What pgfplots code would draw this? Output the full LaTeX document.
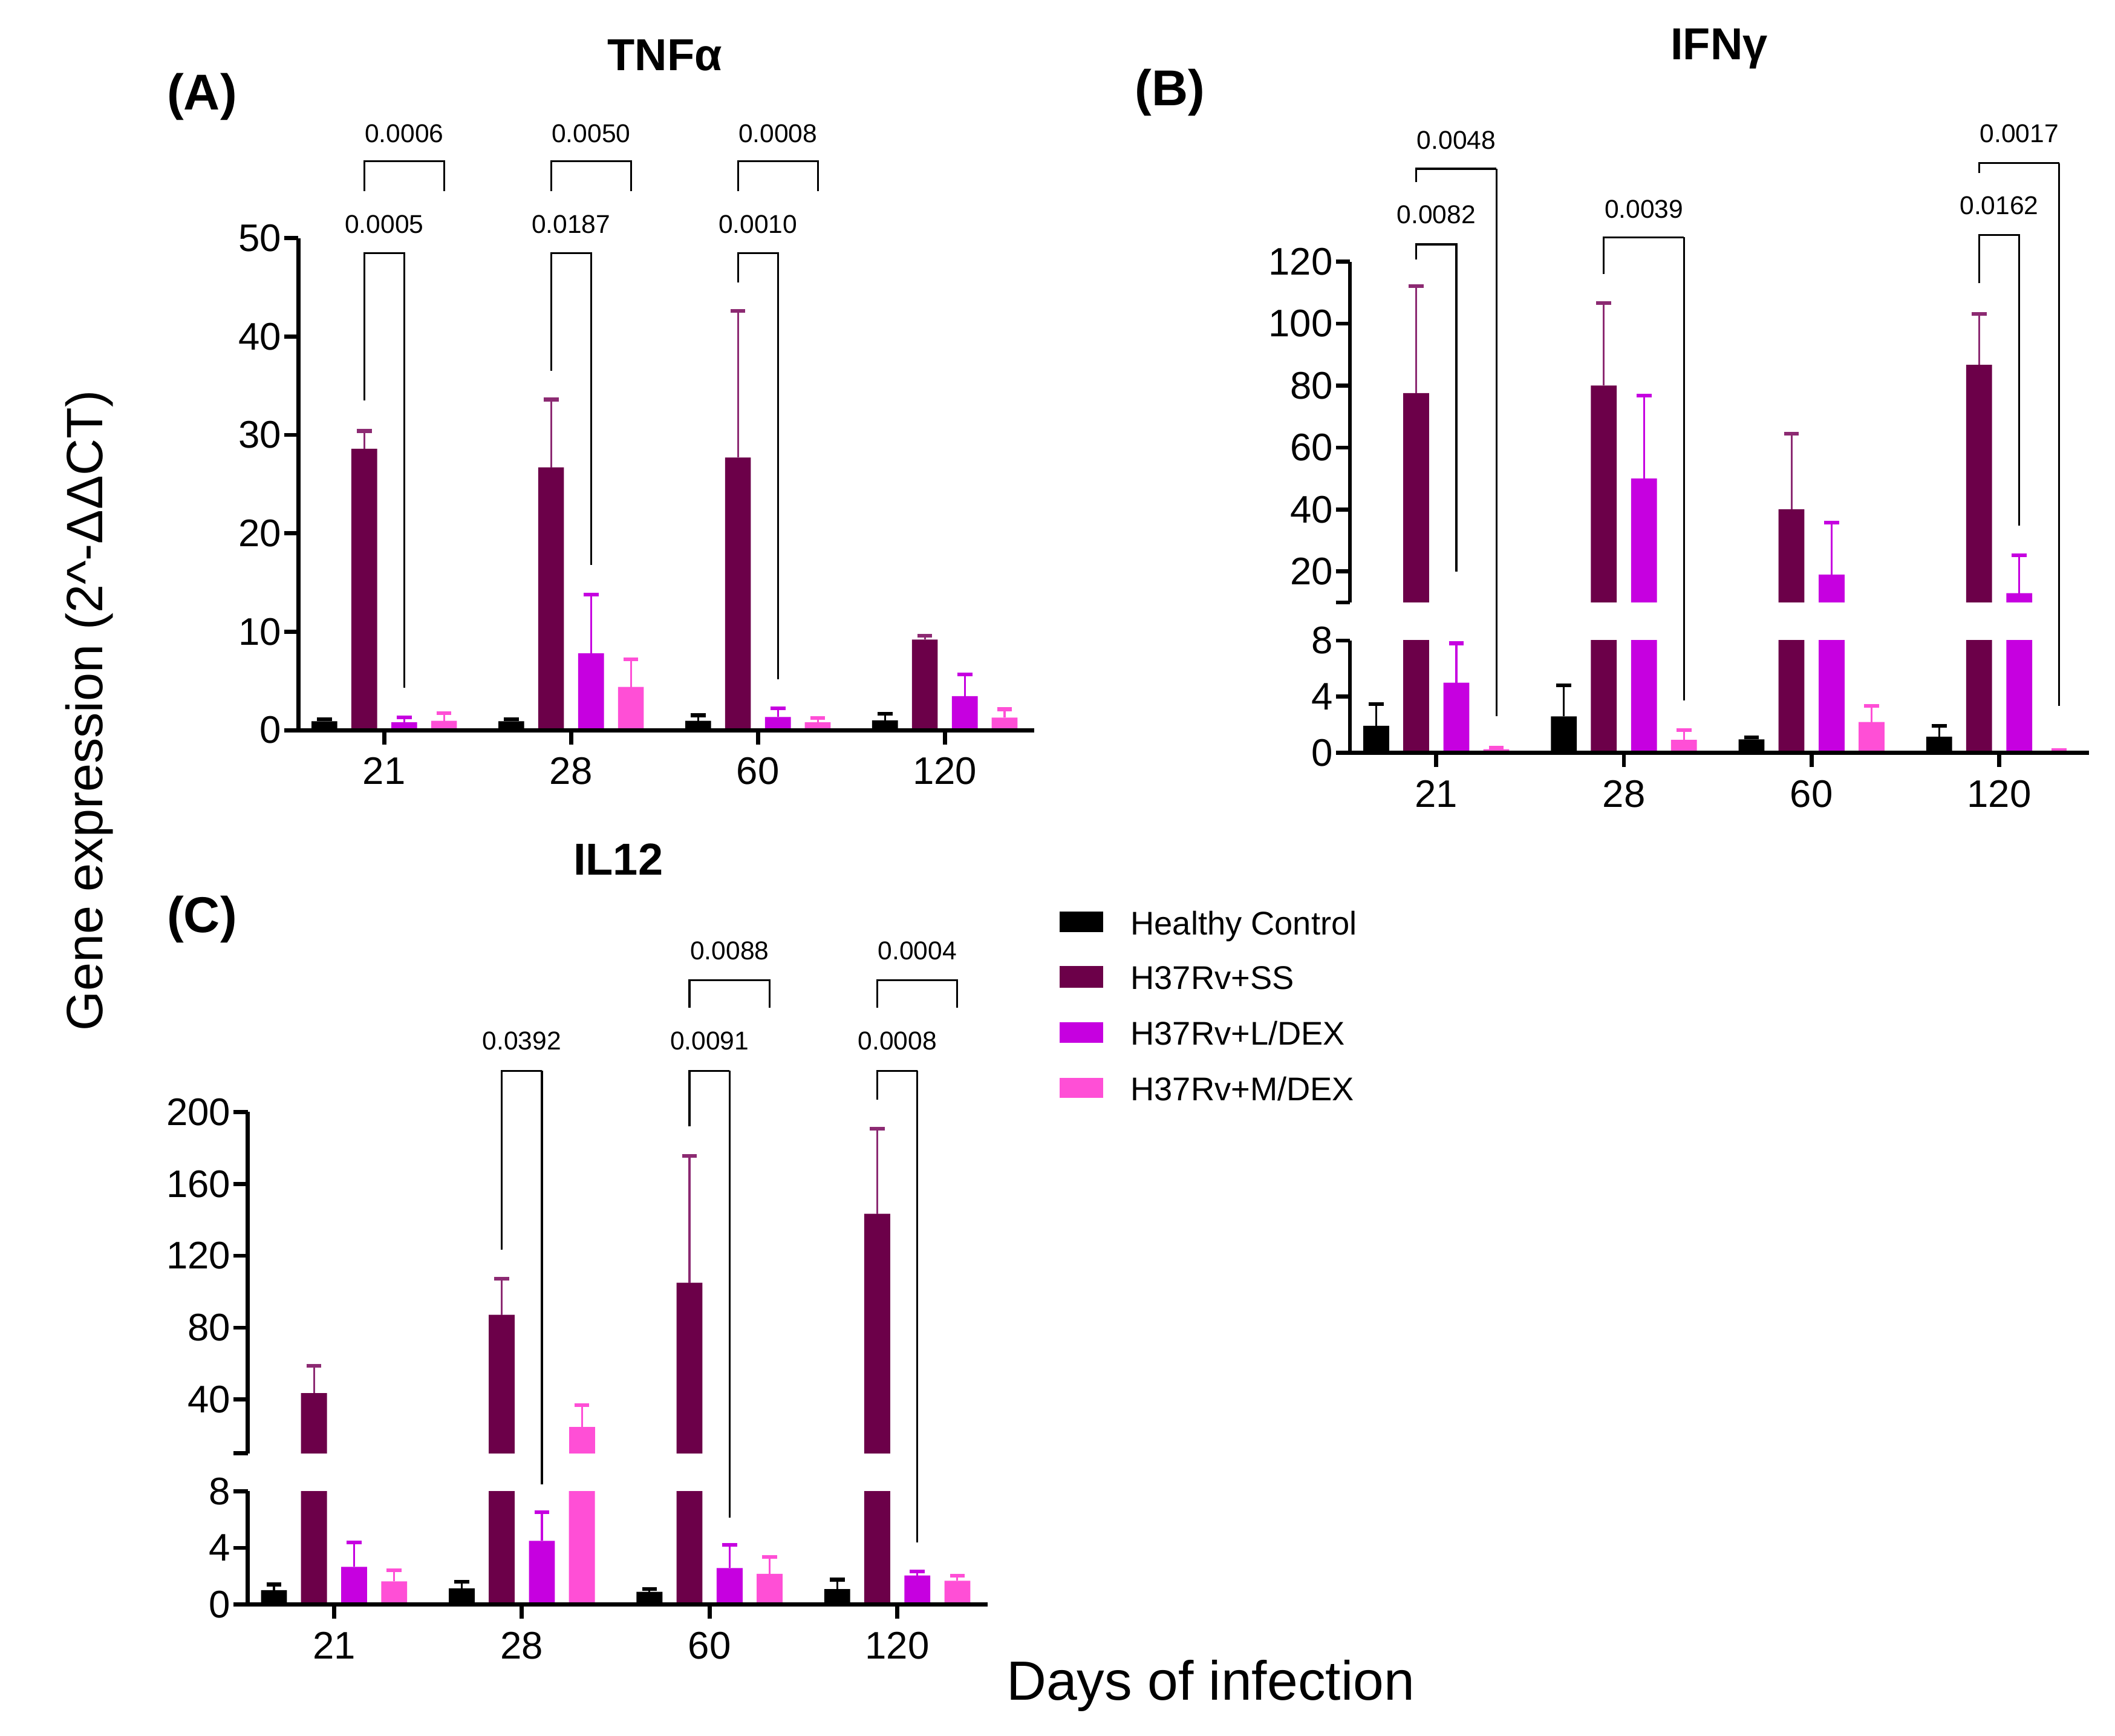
\documentclass[border=0pt]{standalone}
\usepackage{fontspec}
\setmainfont{Liberation Sans}
\usepackage{pgfplots}
\usepackage{pgfplotstable}
\pgfplotsset{compat=1.18}

\definecolor{hc}{HTML}{000000}
\definecolor{ss}{HTML}{6C0049}
\definecolor{sse}{HTML}{8C2A72}
\definecolor{ld}{HTML}{C600E0}
\definecolor{md}{HTML}{FF4FD6}

\newcommand{\px}{0.3634pt}
\newcommand{\pv}{\fontsize{6.9}{8}\selectfont}
\newcommand{\legfont}{\fontsize{8.8}{10}\selectfont}

% mean and SD (upper error) per day: 21, 28, 60, 120
\pgfplotstableread{
g   hc    hce    ss     sse    ld     lde    md     mde
0   0.90  0.20   28.6   1.8    0.80   0.50   0.96   0.75
1   0.90  0.20   26.7   6.9    7.8    6.0    4.4    2.8
2   0.96  0.55   27.7   14.9   1.33   0.90   0.80   0.42
3   1.00  0.65   9.2    0.40   3.46   2.2    1.28   0.85
}\tnfa

\pgfplotstableread{
g   hc    hce    ss     sse    ld     lde    md     mde
0   1.93  1.55   77.6   34.5   5.0    2.8    0.27   0.12
1   2.6   2.2    80.0   26.7   50.0   26.7   0.93   0.70
2   0.97  0.15   40.1   24.4   19.0   16.7   2.2    1.16
3   1.16  0.77   86.7   16.5   13.0   12.2   0.15   0.05
}\ifng

\pgfplotstableread{
g   hc    hce    ss     sse    ld     lde    md     mde
0   1.02  0.40   43.6   15.1   2.66   1.74   1.64   0.78
1   1.15  0.45   87.2   20.0   4.5    2.0    24.8   12.0
2   0.90  0.20   105.0  70.7   2.58   1.62   2.17   1.20
3   1.10  0.66   143.4  47.2   2.05   0.29   1.68   0.37
}\ilxii

\pgfplotsset{
  gp/.style={
    scale only axis, axis on top,
    clip mode=individual, clip marker paths=true,
    anchor=south west,
    xmin=-0.46, xmax=3.48,
    axis y line=left,
    axis line style={-, line width=1.1pt},
    tick style={line width=1.1pt, black},
    major tick length=3.8pt, tick align=outside,
    ybar, bar width=0.138, bar shift=0pt,
    ticklabel style={font=\fontsize{10.3}{12}\selectfont},
    yticklabel style={inner xsep=0.6pt},
    /pgf/number format/assume math mode=true,
  },
  low/.style={axis x line=bottom, xtick={0,1,2,3}, xticklabels={21,28,60,120}, gp},
  % upper part of a broken axis: bars that end below the break are left out
  up/.style={axis x line=none, xtick=\empty, gp,
    unbounded coords=discard, y filter/.expression={y<10 ? nan : y}},
  eb/.style={error bars/.cd, y dir=plus, y explicit,
    error bar style={line width=0.5pt, #1},
    error mark options={line width=1pt, #1, mark size=2pt, rotate=90}},
}

\newcommand{\bars}[1]{%
  \addplot[fill=hc, draw=none, eb=hc]
    table[x expr=\thisrow{g}-0.32, y=hc, y error=hce] {#1};
  \addplot[fill=ss, draw=none, eb=sse]
    table[x expr=\thisrow{g}-0.107, y=ss, y error=sse] {#1};
  \addplot[fill=ld, draw=none, eb=ld]
    table[x expr=\thisrow{g}+0.107, y=ld, y error=lde] {#1};
  \addplot[fill=md, draw=none, eb=md]
    table[x expr=\thisrow{g}+0.32, y=md, y error=mde] {#1};
}

% bracket: xL yL xR yR ytop xlabel ylabel text
\newcommand{\brk}[8]{%
  \draw[line width=0.5pt] (axis cs:#1,#2) -- (axis cs:#1,#5) -- (axis cs:#3,#5) -- (axis cs:#3,#4);
  \node[font=\pv, inner sep=0pt] at (axis cs:#6,#7) {#8};}
% bracket whose right leg goes down into the lower axis: xL yL xR ytop xlabel ylabel text name
\newcommand{\brx}[8]{%
  \draw[line width=0.5pt] (axis cs:#1,#2) -- (axis cs:#1,#4) -- (axis cs:#3,#4) coordinate (#8);
  \node[font=\pv, inner sep=0pt] at (axis cs:#5,#6) {#7};}

\begin{document}
\begin{tikzpicture}
\path[use as bounding box] (0,0) rectangle (1560*\px,1280*\px);

% (A) TNF-alpha
\begin{axis}[low, at={(220*\px,741.5*\px)}, width=197.33pt, height=131.88pt,
  ymin=0, ymax=50, ytick={0,10,...,50}]
\bars{\tnfa}
\brk{-0.107}{33.5}{0.107}{4.3}{48.5}{0}{51.4}{0.0005}
\brk{-0.107}{54.8}{0.32}{54.8}{57.8}{0.107}{60.6}{0.0006}
\brk{0.893}{36.5}{1.107}{16.8}{48.5}{1}{51.4}{0.0187}
\brk{0.893}{54.8}{1.32}{54.8}{57.8}{1.107}{60.6}{0.0050}
\brk{1.893}{45.5}{2.107}{5.2}{48.5}{2}{51.4}{0.0010}
\brk{1.893}{54.8}{2.32}{54.8}{57.8}{2.107}{60.6}{0.0008}
\end{axis}

% (B) IFN-gamma, broken axis
\begin{axis}[low, at={(995.7*\px,724.7*\px)}, width=198.16pt, height=30.13pt,
  ymin=0, ymax=8, ytick={0,4,8}]
\bars{\ifng}
\coordinate (B0b) at (axis cs:0.32,2.6);
\coordinate (B1b) at (axis cs:1.32,3.75);
\coordinate (B3b) at (axis cs:3.32,3.36);
\end{axis}
\begin{axis}[up, at={(995.7*\px,835.7*\px)}, width=198.16pt, height=91.32pt,
  ymin=10, ymax=120, ytick={10,20,40,60,80,100,120}, yticklabels={{},20,40,60,80,100,120}]
\bars{\ifng}
\brk{-0.107}{120.7}{0.107}{20.0}{125.6}{0}{135.2}{0.0082}
\brx{-0.107}{145.7}{0.32}{150}{0.107}{159.3}{0.0048}{B0t}
\brx{0.893}{116}{1.32}{127.9}{1.107}{136.9}{0.0039}{B1t}
\brk{2.893}{113}{3.107}{34.8}{128.7}{3}{138.2}{0.0162}
\brx{2.893}{148.6}{3.32}{151.8}{3.107}{161.4}{0.0017}{B3t}
\end{axis}

% (C) IL12, broken axis
\begin{axis}[low, at={(182.7*\px,96.6*\px)}, width=198.27pt, height=30.42pt,
  ymin=0, ymax=8, ytick={0,4,8}]
\bars{\ilxii}
\coordinate (C1b) at (axis cs:1.107,8.48);
\coordinate (C2b) at (axis cs:2.107,6.15);
\coordinate (C3b) at (axis cs:3.107,4.39);
\end{axis}
\begin{axis}[up, at={(182.7*\px,208.1*\px)}, width=198.27pt, height=91.5pt,
  ymin=10, ymax=200, ytick={10,40,80,120,160,200}, yticklabels={{},40,80,120,160,200}]
\bars{\ilxii}
\brx{0.893}{123.4}{1.107}{222.9}{1}{239.7}{0.0392}{C1t}
\brx{1.893}{191.9}{2.107}{222.9}{2}{239.7}{0.0091}{C2t}
\brk{1.893}{258.2}{2.32}{258.2}{273.4}{2.107}{289.8}{0.0088}
\brx{2.893}{206.8}{3.107}{222.9}{3}{239.7}{0.0008}{C3t}
\brk{2.893}{258.2}{3.32}{258.2}{273.4}{3.107}{289.8}{0.0004}
\end{axis}

\draw[line width=0.5pt] (B0t) -- (B0b);
\draw[line width=0.5pt] (B1t) -- (B1b);
\draw[line width=0.5pt] (B3t) -- (B3b);
\draw[line width=0.5pt] (C1t) -- (C1b);
\draw[line width=0.5pt] (C2t) -- (C2b);
\draw[line width=0.5pt] (C3t) -- (C3b);

% titles and panel letters
\node[anchor=base, inner sep=0pt, font=\bfseries\fontsize{12}{14}\selectfont] at (490.3*\px,1227.9*\px) {TNFα};
\node[anchor=base, inner sep=0pt, font=\bfseries\fontsize{13.5}{16}\selectfont] at (149*\px,1198.9*\px) {(A)};
\node[anchor=base, inner sep=0pt, font=\bfseries\fontsize{12}{14}\selectfont] at (1268*\px,1236*\px) {IFNγ};
\node[anchor=base, inner sep=0pt, font=\bfseries\fontsize{13.5}{16}\selectfont] at (863*\px,1202*\px) {(B)};
\node[anchor=base, inner sep=0pt, font=\bfseries\fontsize{12}{14}\selectfont] at (456*\px,634.9*\px) {IL12};
\node[anchor=base, inner sep=0pt, font=\bfseries\fontsize{13.5}{16}\selectfont] at (149*\px,592.5*\px) {(C)};

% shared axis titles
\node[rotate=90, anchor=base, inner sep=0pt, font=\fontsize{13.7}{16}\selectfont] at (75.5*\px,756*\px) {Gene expression (2\textasciicircum-ΔΔCT)};
\node[anchor=base west, inner sep=0pt, font=\fontsize{14.8}{17}\selectfont] at (741.8*\px,26.2*\px) {Days of infection};

% legend
\fill[hc] (781.7*\px,592.6*\px) rectangle (813.7*\px,607.9*\px);
\node[anchor=base west, inner sep=0pt, font=\legfont] at (833.4*\px,590.7*\px) {Healthy Control};
\fill[ss] (781.7*\px,551.4*\px) rectangle (813.7*\px,567.4*\px);
\node[anchor=base west, inner sep=0pt, font=\legfont] at (833.4*\px,550.2*\px) {H37Rv+SS};
\fill[ld] (781.7*\px,510.9*\px) rectangle (813.7*\px,526.2*\px);
\node[anchor=base west, inner sep=0pt, font=\legfont] at (833.4*\px,509.5*\px) {H37Rv+L/DEX};
\fill[md] (781.7*\px,470.2*\px) rectangle (813.7*\px,485.1*\px);
\node[anchor=base west, inner sep=0pt, font=\legfont] at (833.4*\px,468.3*\px) {H37Rv+M/DEX};

\end{tikzpicture}
\end{document}
